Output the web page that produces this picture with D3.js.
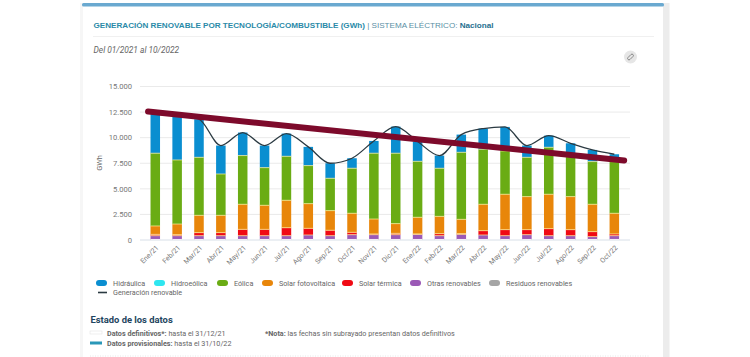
<!DOCTYPE html>
<html>
<head>
<meta charset="utf-8">
<script src="https://d3js.org/d3.v7.min.js"></script>
<style>
  html, body { margin: 0; padding: 0; background: #fff; overflow: hidden; }
  text { font-family: Roboto, "Liberation Sans", sans-serif; }
</style>
</head>
<body>
<svg id="chart" width="750" height="357"></svg>
<script>
var months = ["Ene/21","Feb/21","Mar/21","Abr/21","May/21","Jun/21","Jul/21","Ago/21","Sep/21","Oct/21","Nov/21","Dic/21",
  "Ene/22","Feb/22","Mar/22","Abr/22","May/22","Jun/22","Jul/22","Ago/22","Sep/22","Oct/22"];

var residuos = [100,100,100,100,100,100,100,100,100,100,100,100,100,100,100,100,100,100,100,100,100,100];
var otras = [320,320,320,320,320,320,320,390,320,420,420,420,450,320,450,390,320,420,320,320,230,320];
var termica = [130,100,300,300,620,620,780,650,530,230,70,130,40,200,70,420,590,490,690,590,485,170];
var fotovoltaica = [820,1040,1690,1690,2450,2350,2680,2410,1920,1860,1460,950,1630,1690,1400,2580,3460,3230,3360,3230,2675,2020];
var eolica = [7110,6260,5670,4040,4760,3680,4300,3720,3160,4400,6430,6880,5470,4700,6550,5380,4230,3840,4590,3910,4170,5050];
var hidroeolica = [0,0,0,0,0,0,0,0,0,0,0,0,0,0,0,0,0,0,0,0,0,0];
var hidraulica = [3810,4340,3720,2780,2250,2160,2220,1830,1470,980,1200,2600,1930,1240,1730,2020,2350,1150,1140,1300,1140,720];
var generacion = [12290,12160,11800,9230,10500,9230,10400,9100,7500,7990,9680,11080,9620,8250,10300,10890,11050,9230,10200,9450,8800,8380];

var yTicks = [0,2500,5000,7500,10000,12500,15000];
var trendIdx = [-0.33, 21.45];
var trendVal = [12550, 7770];

var seriesNames = ["Residuos renovables","Otras renovables","Solar térmica","Solar fotovoltaica","Eólica","Hidroeólica","Hidráulica"];
var seriesValues = [residuos, otras, termica, fotovoltaica, eolica, hidroeolica, hidraulica];
var seriesColors = ["#a5a5a5","#9b59b6","#f00a14","#e8860a","#6aac14","#2ee6f0","#0a8ed0"];

var legendRow1 = ["Hidráulica","Hidroeólica","Eólica","Solar fotovoltaica","Solar térmica","Otras renovables","Residuos renovables"];
var legendColors = ["#0a8ed0","#2ee6f0","#6aac14","#e8860a","#f00a14","#9b59b6","#a5a5a5"];
var legendX = [96,154,217,262,342,410,489];

var svg = d3.select("#chart");
var fmt = function(v) { return d3.format(",")(v).replace(/,/g, "."); };

// tarjeta
svg.append("rect").attr("x", 80).attr("y", 3).attr("width", 3).attr("height", 354).attr("fill", "#f6f6f6");
svg.append("rect").attr("x", 663).attr("y", 3).attr("width", 6.5).attr("height", 354).attr("fill", "#ececec");
svg.append("rect").attr("x", 82).attr("y", 3).attr("width", 582).attr("height", 3.5).attr("rx", 1.5).attr("fill", "#6aa9d0");

svg.append("line").attr("x1", 93).attr("x2", 654).attr("y1", 36.5).attr("y2", 36.5).attr("stroke", "#f0f0f0");

var title = svg.append("text").attr("x", 93.5).attr("y", 27.5).style("font-size", "8.1px")
  .style("font-family", "'Liberation Sans', sans-serif");
title.append("tspan").attr("font-weight", "bold").attr("fill", "#2a8aa8").text("GENERACIÓN RENOVABLE POR TECNOLOGÍA/COMBUSTIBLE (GWh)");
title.append("tspan").attr("fill", "#5a8fa5").text(" | SISTEMA ELÉCTRICO: ");
title.append("tspan").attr("font-weight", "bold").attr("fill", "#1f6f8f").text("Nacional");

svg.append("text").attr("x", 93.5).attr("y", 53).attr("fill", "#666").attr("font-style", "italic")
  .style("font-size", "8.4px").text("Del 01/2021 al 10/2022");

// icono enlace
svg.append("circle").attr("cx", 630.5).attr("cy", 57).attr("r", 6.5).attr("fill", "#e6e6e6");
svg.append("rect").attr("x", 627).attr("y", 55.6).attr("width", 7).attr("height", 2.8).attr("rx", 1.4)
  .attr("transform", "rotate(-45 630.5 57)").attr("fill", "none").attr("stroke", "#777").attr("stroke-width", 0.8);

var y = d3.scaleLinear().domain([0, 15000]).range([240, 86.5]);
var x = d3.scaleBand().domain(months).range([144.4, 625.2]).paddingInner(0.565).paddingOuter(0.28);
var xc = function(m) { return x(m) + x.bandwidth() / 2; };
var xi = d3.scaleLinear().domain([0, 21]).range([xc(months[0]), xc(months[21])]);

// rejilla
svg.append("g").selectAll("line").data(yTicks).enter().append("line")
  .attr("x1", 140).attr("x2", 630)
  .attr("y1", function(d) { return y(d); }).attr("y2", function(d) { return y(d); })
  .attr("stroke", function(d) { return d === 0 ? "#d8dfe8" : "#eaeaea"; }).attr("stroke-width", 1);

svg.append("g").selectAll("text").data(yTicks).enter().append("text")
  .attr("x", 132).attr("y", function(d) { return y(d) + 2.8; })
  .attr("text-anchor", "end").attr("fill", "#777").style("font-size", "7.6px")
  .text(fmt);

svg.append("text").attr("transform", "translate(102,163) rotate(-90)")
  .attr("text-anchor", "middle").attr("fill", "#666").style("font-size", "7.4px").text("GWh");

// barras apiladas
var table = months.map(function(m, i) {
  var row = { mes: m };
  seriesNames.forEach(function(s, k) { row[s] = seriesValues[k][i]; });
  return row;
});
var stacked = d3.stack().keys(seriesNames)(table);

svg.append("g").selectAll("g").data(stacked).enter().append("g")
  .attr("fill", function(d, i) { return seriesColors[i]; })
  .selectAll("rect").data(function(d) { return d; }).enter().append("rect")
  .filter(function(d) { return d[1] > d[0]; })
  .attr("x", function(d) { return x(d.data.mes); })
  .attr("width", x.bandwidth())
  .attr("y", function(d) { return y(d[1]); })
  .attr("height", function(d) { return y(d[0]) - y(d[1]); });

// separadores finos entre segmentos, como en el original
svg.append("g").selectAll("g").data(stacked.slice(1, 5)).enter().append("g")
  .selectAll("line").data(function(d) { return d; }).enter().append("line")
  .attr("x1", function(d) { return x(d.data.mes); })
  .attr("x2", function(d) { return x(d.data.mes) + x.bandwidth(); })
  .attr("y1", function(d) { return y(d[1]); })
  .attr("y2", function(d) { return y(d[1]); })
  .attr("stroke", "#ffef9a").attr("stroke-width", 0.7);

// residuos casi blanco abajo
svg.selectAll(".base").data(months).enter().append("rect").attr("class", "base")
  .attr("x", function(d) { return x(d); }).attr("width", x.bandwidth())
  .attr("y", y(residuos[0])).attr("height", y(0) - y(residuos[0])).attr("fill", "#f3eef5");

var line = d3.line().x(function(d, i) { return xi(i); }).y(function(d) { return y(d); }).curve(d3.curveMonotoneX);
svg.append("path").datum(generacion).attr("d", line).attr("fill", "none")
  .attr("stroke", "#2b3a42").attr("stroke-width", 1.3);

// linea de tendencia
svg.append("line")
  .attr("x1", xi(trendIdx[0])).attr("y1", y(trendVal[0]))
  .attr("x2", xi(trendIdx[1])).attr("y2", y(trendVal[1]))
  .attr("stroke", "#7d0a2b").attr("stroke-width", 6).attr("stroke-linecap", "round");

// etiquetas eje x
svg.append("g").selectAll("text").data(months).enter().append("text")
  .attr("transform", function(d) { return "translate(" + (xc(d) + 2) + ",246.5) rotate(-45)"; })
  .attr("text-anchor", "end").attr("dy", "0.35em").attr("fill", "#777").style("font-size", "7px")
  .text(function(d) { return d; });

// leyenda
var leg = svg.append("g").selectAll("g").data(legendRow1).enter().append("g")
  .attr("transform", function(d, i) { return "translate(" + legendX[i] + ",282.5)"; });
leg.append("rect").attr("x", 0).attr("y", -2.5).attr("width", 11).attr("height", 6).attr("rx", 3)
  .attr("fill", function(d, i) { return legendColors[i]; });
leg.append("text").attr("x", 17).attr("y", 3).attr("fill", "#666").style("font-size", "7.2px")
  .text(function(d) { return d; });

svg.append("line").attr("x1", 98).attr("x2", 107).attr("y1", 292.5).attr("y2", 292.5)
  .attr("stroke", "#2b3a42").attr("stroke-width", 1.6);
svg.append("text").attr("x", 113).attr("y", 295).attr("fill", "#666").style("font-size", "7.2px").text("Generación renovable");

// estado de los datos
svg.append("text").attr("x", 90.5).attr("y", 323).attr("fill", "#1d4560").attr("font-weight", "bold")
  .style("font-size", "9.4px").text("Estado de los datos");

svg.append("rect").attr("x", 90).attr("y", 331).attr("width", 12).attr("height", 3).attr("fill", "#fff")
  .attr("stroke", "#e4e4e4").attr("stroke-width", 0.6);
var t1 = svg.append("text").attr("x", 107).attr("y", 335.5).attr("fill", "#666").style("font-size", "7.2px");
t1.append("tspan").attr("font-weight", "bold").text("Datos definitivos*:");
t1.append("tspan").text(" hasta el 31/12/21");

svg.append("rect").attr("x", 90).attr("y", 341.5).attr("width", 12).attr("height", 3).attr("fill", "#2a97b8");
var t2 = svg.append("text").attr("x", 107).attr("y", 346).attr("fill", "#666").style("font-size", "7.2px");
t2.append("tspan").attr("font-weight", "bold").text("Datos provisionales:");
t2.append("tspan").text(" hasta el 31/10/22");

var t3 = svg.append("text").attr("x", 265).attr("y", 335.5).attr("fill", "#666").style("font-size", "7.2px");
t3.append("tspan").attr("font-weight", "bold").text("*Nota:");
t3.append("tspan").text(" las fechas sin subrayado presentan datos definitivos");

svg.append("line").attr("x1", 90).attr("x2", 650).attr("y1", 356).attr("y2", 356)
  .attr("stroke", "#e6e6e6").attr("stroke-dasharray", "1,1.5");
</script>
</body>
</html>
